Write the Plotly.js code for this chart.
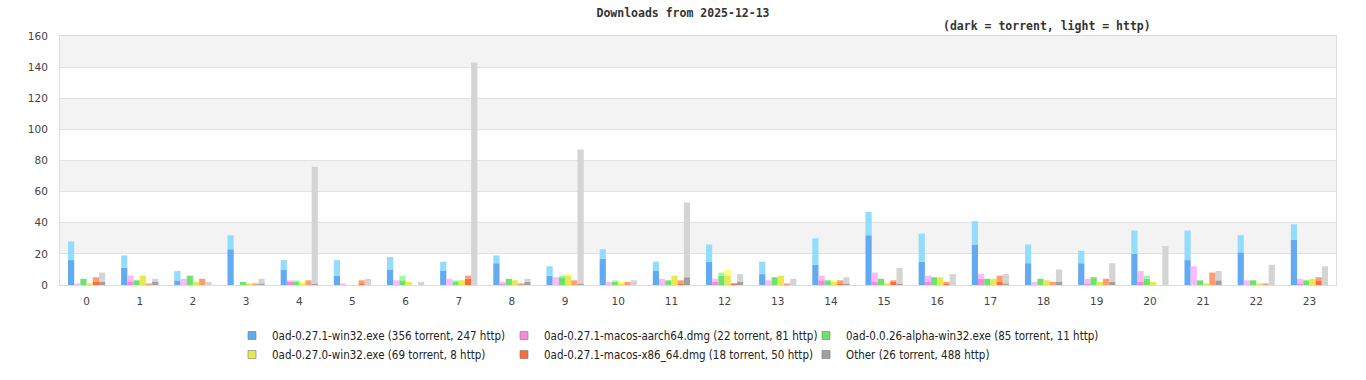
<!DOCTYPE html>
<html>
<head>
<meta charset="utf-8">
<script src="https://cdn.plot.ly/plotly-3.0.1.min.js"></script>
<style>html,body{margin:0;padding:0;background:#fff;}#chart{width:1366px;height:380px;}</style>
</head>
<body>
<div id="chart"></div>
<script>
// ---- data ----
const hours = ["0","1","2","3","4","5","6","7","8","9","10","11","12","13","14","15","16","17","18","19","20","21","22","23"];
const seriesNames = [
  "0ad-0.27.1-win32.exe (356 torrent, 247 http)",
  "0ad-0.27.1-macos-aarch64.dmg (22 torrent, 81 http)",
  "0ad-0.0.26-alpha-win32.exe (85 torrent, 11 http)",
  "0ad-0.27.0-win32.exe (69 torrent, 8 http)",
  "0ad-0.27.1-macos-x86_64.dmg (18 torrent, 50 http)",
  "Other (26 torrent, 488 http)"
];
const win32Torrent   = [16,11,3,23,10,6,10,9,14,6,17,9,15,7,13,32,15,26,14,14,20,16,21,29];
const win32Http      = [12,8,6,9,6,10,8,6,5,6,6,6,11,8,17,15,18,15,12,8,15,19,11,10];
const aarch64Torrent = [0,2,0,0,2,0,0,0,1,0,0,0,2,0,3,2,2,4,0,1,2,0,0,1];
const aarch64Http    = [1,4,4,0,1,1,3,4,1,5,2,4,2,3,3,6,4,3,2,3,7,12,3,3];
const alphaTorrent   = [4,3,6,2,2,0,3,2,4,5,2,3,6,5,3,4,5,4,4,5,4,3,3,3];
const alphaHttp      = [0,0,0,0,1,0,3,1,0,1,1,0,2,0,0,0,0,0,0,0,2,0,0,0];
const w0270Torrent   = [1,6,2,1,1,0,2,3,3,6,1,6,6,6,2,1,5,4,3,2,2,1,1,4];
const w0270Http      = [0,0,0,0,1,0,0,0,0,1,1,0,4,0,1,0,0,0,0,0,0,0,0,0];
const x86Torrent     = [2,0,0,0,0,1,0,4,0,0,0,1,1,0,1,2,1,2,0,0,0,0,0,3];
const x86Http        = [3,1,4,1,3,2,0,2,1,3,2,2,0,1,2,1,1,4,2,4,0,8,1,2];
const otherTorrent   = [2,2,0,1,1,0,0,0,2,1,0,5,2,0,1,1,0,1,2,2,0,3,0,0];
const otherHttp      = [6,2,2,3,75,4,2,143,2,86,3,48,5,4,4,10,7,6,8,12,25,6,13,12];

const torrentData = [win32Torrent, aarch64Torrent, alphaTorrent, w0270Torrent, x86Torrent, otherTorrent];
const httpData    = [win32Http, aarch64Http, alphaHttp, w0270Http, x86Http, otherHttp];
const darkColors  = ["#62aaf2","#f58ad8","#6ce46c","#e8e850","#ff6b3b","#a0a0a0"];
const lightColors = ["#92dcfd","#ffb8ff","#9dfc9d","#ffff7a","#ff9c70","#d4d4d4"];
const legendOf    = ["legend","legend2","legend3","legend","legend2","legend3"];

const traces = [];
for (let i = 0; i < 6; i++) {
  traces.push({
    type: "bar", x: hours, y: torrentData[i], offsetgroup: String(i),
    marker: {color: darkColors[i], line: {width: 0}}, showlegend: false, hoverinfo: "y"
  });
  traces.push({
    type: "bar", x: hours, y: httpData[i], base: torrentData[i], offsetgroup: String(i),
    marker: {color: lightColors[i], line: {width: 0}}, showlegend: false, hoverinfo: "y"
  });
}
// legend entries
const legendOrder = [0,3,1,4,2,5];
legendOrder.forEach(i => {
  traces.push({
    type: "scatter", mode: "markers", x: [null], y: [null], name: seriesNames[i],
    legend: legendOf[i],
    marker: {symbol: "square", size: 8, color: darkColors[i], line: {color: "#777", width: 0.6}},
    showlegend: true, hoverinfo: "skip"
  });
});

const bands = [];
for (let v = 20; v < 160; v += 40) {
  bands.push({type: "rect", xref: "paper", yref: "y", x0: 0, x1: 1, y0: v, y1: v + 20,
    fillcolor: "#f3f3f3", line: {width: 0}, layer: "below"});
}

const L = 60, R = 1336, T = 36, B = 285;
const px = x => (x - L) / (R - L);
const py = y => (B - y) / (B - T);
const legFont = {family: "DejaVu Sans Condensed, DejaVu Sans", size: 11.5, color: "#222"};
const legBase = {orientation: "v", xanchor: "left", yanchor: "top", y: py(321),
  font: legFont, bgcolor: "rgba(0,0,0,0)", borderwidth: 0, tracegroupgap: 0, itemwidth: 30};

const layout = {
  width: 1366, height: 380,
  margin: {l: L, r: 1366 - R, t: T, b: 380 - B, autoexpand: false},
  paper_bgcolor: "#fff", plot_bgcolor: "#fff",
  barmode: "group", bargap: 0.3, bargroupgap: 0,
  title: {text: "Downloads from 2025-12-13", xref: "container", x: 0.5, xanchor: "center",
    yref: "container", y: 1 - 13 / 380, yanchor: "middle",
    font: {family: "DejaVu Sans Mono", size: 11.5, color: "#333", weight: "bold"}},
  annotations: [{text: "(dark = torrent, light = http)", xref: "paper", yref: "paper",
    x: px(1047), y: py(26), xanchor: "center", yanchor: "middle", showarrow: false,
    font: {family: "DejaVu Sans Mono", size: 11.5, color: "#333", weight: "bold"}}],
  xaxis: {type: "category", showgrid: false, showline: true, linecolor: "#dcdcdc", linewidth: 1,
    mirror: true, zeroline: false, ticks: "", ticklabelstandoff: 6, automargin: false,
    tickfont: {family: "DejaVu Sans", size: 10.5, color: "#444"}},
  yaxis: {range: [0, 160], dtick: 20, showgrid: true, gridcolor: "#e2e2e2", gridwidth: 1,
    showline: true, linecolor: "#dcdcdc", linewidth: 1, mirror: true, zeroline: false,
    ticks: "", ticklabelstandoff: 9, automargin: false,
    tickfont: {family: "DejaVu Sans", size: 10.5, color: "#444"}},
  shapes: bands,
  legend:  Object.assign({}, legBase, {x: px(232)}),
  legend2: Object.assign({}, legBase, {x: px(504)}),
  legend3: Object.assign({}, legBase, {x: px(806)}),
  showlegend: true
};

Plotly.newPlot("chart", traces, layout, {displayModeBar: false, staticPlot: true});
</script>
</body>
</html>
